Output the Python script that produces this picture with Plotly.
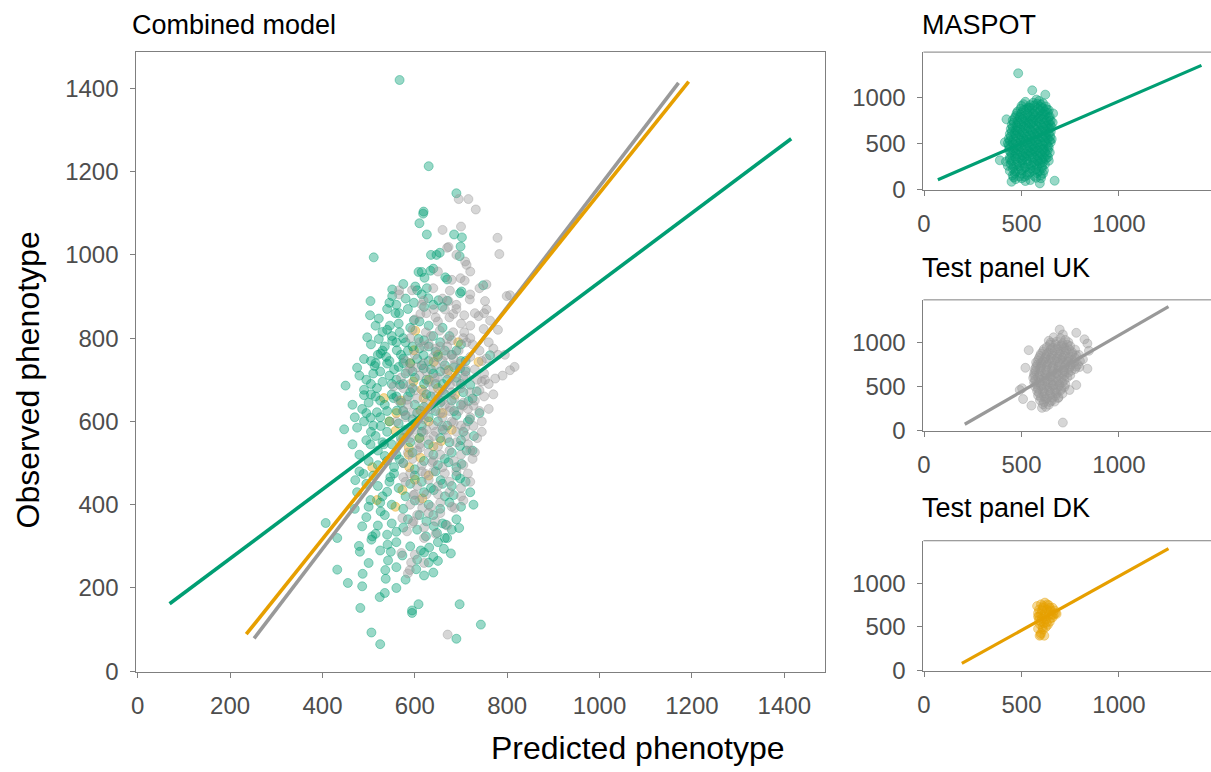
import plotly.graph_objects as go

# ---------------- data ----------------
# Combined model panel: MASPOT (green) points
comb_maspot_x = [567, 630, 690, 619, 618, 610, 626, 685, 702, 699, 511, 635, 647, 654, 697, 608, 615, 634, 640, 621,
                 666, 670, 748, 551, 601, 626, 701,
                 504, 551, 598, 629, 651, 698, 503, 522, 558, 566, 598, 546, 567, 497, 522, 551, 580, 608, 526, 538,
                 561, 575, 619, 645, 763, 475, 513, 540, 565, 619, 698, 450, 490, 518, 568, 734, 720, 490, 554, 716,
                 486, 518, 561,
                 447, 475, 504, 526, 719, 728, 504, 533, 698, 712, 535, 567, 673, 701, 471, 489, 547, 656, 698, 504,
                 540, 641, 684, 727, 407, 486, 526, 641, 667, 696, 508, 540, 624, 648,
                 432, 479, 481, 506, 541, 548, 542, 573, 603, 605, 613, 631, 630, 640, 640, 663, 678, 670, 487, 536,
                 537, 455, 486, 535, 524, 482, 608, 594, 594, 697, 743, 506, 525, 690, 432,
                 560, 585, 615, 640, 660, 540,
                 530, 550, 575, 595, 620, 640, 655, 675, 690,
                 505, 520, 545, 570, 590, 605, 630, 650, 665, 680, 700,
                 495, 510, 530, 545, 560, 580, 600, 625, 640, 660, 690, 710,
                 500, 515, 535, 550, 570, 585, 600, 620, 635, 655, 680, 700, 725,
                 490, 510, 525, 545, 565, 580, 595, 615, 630, 650, 670, 690, 715,
                 495, 515, 530, 550, 570, 590, 610, 630, 655, 675, 700,
                 500, 520, 540, 555, 575, 600, 620, 650, 665, 690,
                 495, 520, 545, 565, 590, 615, 635, 660, 680, 710,
                 500, 525, 550, 575, 600, 630, 655, 675, 700,
                 520, 550, 575, 605, 625, 660, 680,
                 525, 560, 590, 620, 650,
                 575, 605, 545, 580, 620, 670,
                 515, 540, 565, 590, 610, 630, 660, 505, 535, 560, 585, 610, 630, 665, 700,
                 490, 515, 530, 555, 575, 595, 615, 635, 655, 685, 710, 480, 505, 525, 550, 575, 595, 620, 645, 670,
                 700,
                 495, 505, 525, 540, 560, 575, 590, 605, 625, 645, 665, 685, 705, 465, 470, 740,
                 480, 505, 520, 540, 560, 580, 595, 615, 640, 660, 680, 705, 725, 465,
                 475, 510, 530, 555, 580, 600, 620, 645, 665, 690, 720, 480,
                 495, 515, 535, 560, 585, 610, 640, 665, 690, 470,
                 500, 560, 580, 620, 650, 560]
comb_maspot_y = [1420, 1213, 1148, 1104, 1099, 1076, 1049, 1049, 1042, 1020, 994, 1000, 1000, 1005, 997, 959, 959, 962,
                 967, 945, 946, 941, 927, 917, 924, 920, 912,
                 889, 901, 885, 896, 891, 908, 855, 847, 860, 860, 843, 830, 814, 802, 798, 794, 790, 798, 763, 755,
                 771, 751, 759, 767, 759, 729, 733, 739, 731, 727, 727, 686, 676, 680, 688, 672, 688, 663, 656, 649,
                 630, 622, 626,
                 581, 585, 609, 589, 605, 565, 545, 545, 541, 530, 517, 509, 502, 498, 459, 474, 466, 459, 463, 411,
                 431, 435, 423, 400, 356, 348, 384, 348, 352, 344, 324, 328, 324, 332,
                 244, 301, 287, 316, 304, 287, 266, 278, 245, 268, 290, 297, 261, 275, 237, 294, 283, 320, 234, 243,
                 222, 212, 204, 188, 178, 152, 161, 146, 140, 161, 112, 93, 65, 78, 320,
                 880, 870, 905, 880, 875, 870,
                 815, 805, 800, 780, 795, 805, 790, 805, 770,
                 745, 760, 745, 760, 740, 750, 745, 755, 735, 760, 745,
                 700, 715, 695, 710, 700, 715, 705, 700, 715, 690, 705, 720,
                 645, 660, 640, 665, 645, 660, 640, 635, 660, 645, 650, 640, 655,
                 600, 590, 610, 600, 595, 615, 605, 590, 610, 600, 590, 615, 600,
                 555, 565, 550, 545, 560, 550, 560, 545, 560, 550, 555,
                 505, 495, 505, 490, 500, 485, 505, 495, 510, 490,
                 450, 445, 455, 440, 450, 455, 440, 450, 445, 455,
                 395, 405, 400, 390, 410, 400, 390, 405, 395,
                 350, 355, 345, 340, 360, 355, 340,
                 290, 310, 300, 285, 310,
                 930, 915, 885, 895, 875, 890,
                 830, 820, 835, 825, 840, 830, 825, 785, 780, 790, 770, 775, 780, 770, 785,
                 750, 740, 770, 725, 740, 720, 735, 725, 720, 730, 745, 710, 690, 720, 690, 690, 680, 690, 690, 700,
                 690,
                 620, 665, 650, 625, 660, 625, 670, 620, 665, 625, 665, 625, 670, 640, 610, 620,
                 520, 575, 530, 575, 520, 580, 525, 575, 520, 580, 525, 575, 530, 545,
                 430, 470, 420, 475, 420, 470, 430, 480, 420, 470, 430, 480,
                 370, 330, 375, 335, 365, 375, 375, 320, 365, 390,
                 260, 250, 220, 230, 265, 200]

# Combined model panel: Test panel UK (grey) points
comb_uk_x = [695, 716, 732, 700, 779, 673, 670, 709, 712, 783, 699, 708, 755, 566, 594, 676, 806,
             566, 619, 673, 719, 752, 755, 799, 612, 641, 665, 683, 707, 738, 763, 624, 654, 683, 707, 749, 630,
             670, 712, 666, 684, 755, 590, 806, 816, 774, 752, 554, 643, 676, 705, 745, 583, 659, 676, 705, 727,
             590, 619, 641, 659, 684, 709, 727, 612, 730, 637, 575, 623, 597, 686, 573, 597, 616, 583,
             571, 592, 589, 671,
             640, 660, 690, 720,
             600, 625, 650, 675, 700, 730,
             590, 610, 635, 655, 680, 705, 725, 760,
             580, 600, 620, 640, 660, 680, 700, 720, 745, 780,
             570, 590, 610, 630, 650, 670, 690, 710, 735, 760,
             565, 585, 605, 625, 645, 665, 685, 705, 730, 750,
             560, 580, 600, 620, 640, 660, 680, 700, 720, 745,
             570, 590, 610, 630, 650, 670, 690, 715, 735,
             575, 595, 615, 640, 660, 685, 705, 725,
             580, 605, 630, 650, 675, 700, 720,
             590, 610, 635, 655, 680, 705,
             595, 620, 645, 670,
             585, 620,
             650, 680, 720, 740, 660, 690,
             615, 645, 690, 720, 750, 780,
             595, 620, 645, 670, 695, 720, 740, 770, 795,
             585, 605, 625, 645, 665, 685, 710, 730, 750, 790,
             575, 600, 620, 640, 660, 680, 700, 720, 740, 770,
             575, 595, 615, 635, 655, 675, 695, 715, 740, 760,
             580, 600, 625, 645, 665, 690, 710, 745,
             585, 605, 630, 655, 675, 700, 720,
             590, 615, 640, 665, 690, 715,
             600, 625, 650, 675, 700,
             605, 630, 655, 620, 645, 600]
comb_uk_y = [1134, 1134, 1109, 1068, 1041, 1019, 1017, 984, 976, 1002, 944, 938, 929, 915, 915, 914, 903,
             905, 890, 889, 893, 889, 869, 901, 858, 869, 869, 858, 855, 853, 842, 814, 818, 814, 814, 822, 786,
             798, 790, 759, 751, 751, 727, 723, 731, 703, 700, 684, 704, 688, 704, 696, 652, 649, 634, 638, 638,
             585, 573, 565, 589, 597, 585, 589, 537, 526, 502, 466, 474, 423, 392, 368, 360, 392, 336,
             284, 261, 243, 88,
             920, 895, 880, 905,
             845, 860, 840, 850, 835, 860,
             800, 790, 805, 780, 795, 800, 785, 790,
             745, 760, 740, 755, 745, 760, 740, 755, 745, 760,
             705, 690, 710, 695, 705, 715, 695, 710, 700, 690,
             650, 640, 655, 645, 660, 640, 655, 645, 650, 660,
             600, 610, 595, 605, 590, 610, 600, 590, 610, 600,
             550, 560, 545, 555, 540, 560, 550, 545, 560,
             500, 510, 495, 505, 490, 505, 495, 510,
             455, 445, 460, 445, 455, 440, 455,
             400, 410, 395, 405, 395, 410,
             355, 345, 360, 350,
             235, 260,
             960, 940, 960, 920, 1060, 1000,
             880, 850, 870, 830, 860, 820,
             820, 780, 775, 780, 770, 800, 770, 775, 760,
             720, 730, 720, 735, 725, 735, 725, 725, 715, 710,
             680, 675, 670, 680, 675, 670, 680, 670, 675, 665,
             625, 620, 625, 630, 620, 625, 625, 630, 625, 630,
             575, 580, 580, 575, 580, 575, 565, 575,
             525, 530, 525, 520, 530, 520, 530,
             475, 480, 480, 475, 480, 475,
             425, 425, 425, 430, 420,
             375, 380, 380, 320, 330, 280]

# Combined model panel: Test panel DK (orange) points
comb_dk_x = [558, 587, 657, 508, 588, 612, 518, 558, 573, 616, 601, 694, 598, 738, 641, 673, 597, 615, 533, 619,
             687, 612, 587, 630, 650, 560, 640, 600, 545, 575, 630, 660, 680, 610, 570, 630, 590, 650]
comb_dk_y = [577, 537, 553, 490, 490, 513, 411, 395, 435, 415, 818, 790, 771, 743, 743, 723, 696, 676, 656, 656,
             664, 626, 520, 600, 680, 620, 540, 460, 600, 560, 700, 620, 580, 560, 650, 470, 740, 760]

# Fitted lines in the combined panel (end points)
line_maspot_x = [69, 1415]
line_maspot_y = [162, 1279]
line_uk_x = [252, 1171]
line_uk_y = [79, 1413]
line_dk_x = [235, 1193]
line_dk_y = [89, 1416]

# MASPOT panel points
maspot_x = [483, 555, 622, 577, 662, 670, 594, 449, 389, 423, 415, 636, 517, 542,
            520, 560, 590, 610,
            500, 535, 565, 600, 625,
            480, 510, 540, 570, 595, 620, 640,
            470, 495, 520, 545, 570, 595, 620, 645,
            455, 480, 505, 530, 555, 580, 605, 630, 650,
            450, 475, 500, 525, 550, 575, 600, 625, 648,
            445, 470, 495, 520, 545, 570, 595, 620, 645,
            440, 465, 490, 515, 540, 565, 590, 615, 640,
            435, 460, 485, 510, 535, 560, 585, 610, 635, 655,
            430, 455, 480, 505, 530, 555, 580, 605, 630, 650,
            440, 465, 490, 515, 540, 565, 590, 615, 640,
            445, 470, 495, 520, 545, 570, 595, 620, 645,
            440, 465, 490, 515, 540, 565, 590, 615,
            420, 450, 480, 505, 530, 560, 585, 610, 640,
            430, 460, 490, 520, 550, 580, 605,
            440, 470, 500, 530, 560, 590, 615,
            455, 490, 530, 565, 600,
            470, 545, 600,
            510, 545, 580, 600,
            495, 525, 555, 585, 610, 630,
            475, 500, 530, 560, 585, 610, 635,
            465, 490, 515, 540, 565, 590, 615, 640,
            460, 485, 510, 535, 560, 590, 615, 640, 660,
            455, 480, 510, 535, 560, 585, 610, 635, 655,
            450, 480, 505, 530, 555, 580, 605, 630, 650,
            445, 470, 500, 525, 550, 575, 600, 625, 648,
            440, 470, 495, 520, 545, 570, 595, 620, 645,
            435, 460, 485, 510, 535, 560, 585, 610, 635,
            435, 460, 485, 510, 535, 560, 585, 610, 635,
            450, 480, 505, 530, 555, 580, 605, 630,
            440, 470, 500, 525, 555, 580, 605, 625,
            445, 475, 505, 535, 565, 595, 620,
            455, 485, 515, 545, 575, 605,
            465, 500, 540, 580, 610,
            500, 520, 575, 460]
maspot_y = [1260, 1075, 1028, 975, 824, 93, 64, 82, 315, 760, 511, 350, 136, 885,
            950, 940, 960, 935,
            905, 890, 910, 895, 900,
            845, 860, 850, 840, 855, 845, 860,
            795, 810, 800, 790, 805, 795, 810, 790,
            750, 740, 760, 745, 755, 740, 760, 750, 745,
            700, 690, 705, 695, 710, 695, 705, 690, 700,
            655, 640, 650, 660, 645, 655, 640, 650, 660,
            600, 610, 595, 605, 590, 600, 610, 595, 605,
            550, 545, 560, 550, 540, 555, 545, 560, 550, 545,
            500, 505, 495, 510, 500, 490, 505, 495, 500, 510,
            450, 445, 455, 440, 455, 445, 450, 440, 455,
            400, 395, 405, 390, 400, 410, 395, 405, 400,
            345, 355, 340, 350, 360, 345, 350, 340,
            300, 305, 295, 310, 300, 290, 305, 295, 310,
            255, 245, 250, 240, 255, 245, 250,
            200, 195, 205, 190, 200, 195, 205,
            150, 140, 155, 145, 150,
            110, 100, 120,
            925, 915, 930, 920,
            875, 870, 880, 875, 880, 870,
            825, 830, 820, 825, 830, 820, 830,
            775, 780, 770, 775, 780, 770, 775, 780,
            725, 720, 730, 720, 730, 725, 720, 730, 725,
            675, 670, 680, 670, 680, 675, 670, 680, 675,
            625, 630, 620, 630, 625, 620, 630, 625, 625,
            575, 580, 575, 570, 580, 575, 570, 580, 575,
            525, 520, 530, 525, 520, 530, 520, 525, 530,
            475, 480, 470, 480, 475, 470, 480, 475, 470,
            425, 420, 430, 425, 420, 430, 420, 430, 425,
            375, 380, 370, 375, 380, 370, 375, 375,
            325, 330, 320, 325, 330, 320, 325, 330,
            275, 270, 280, 275, 270, 280, 270,
            225, 220, 230, 225, 220, 230,
            175, 170, 180, 175, 170,
            120, 90, 125, 130]
maspot_line_x = [71, 1423]
maspot_line_y = [104, 1346]

# Test panel UK points
uk_x = [537, 520, 503, 508, 551, 605, 712, 696, 712, 781, 823, 838, 838, 797, 781, 746, 688, 491, 846,
        650, 680, 710, 740,
        630, 660, 690, 720, 750,
        610, 640, 670, 700, 730, 760,
        595, 625, 655, 685, 715, 745, 780,
        585, 610, 640, 670, 700, 730, 760, 800,
        580, 605, 635, 665, 695, 725, 755, 790,
        570, 595, 625, 655, 685, 715, 745, 775,
        565, 590, 620, 650, 680, 710, 740,
        560, 585, 615, 645, 675, 705, 735,
        565, 590, 620, 650, 680, 710,
        570, 600, 630, 660, 690, 720,
        580, 610, 640, 670, 700,
        585, 615, 645, 675,
        595, 625, 655,
        610, 640,
        665, 700, 725, 640,
        645, 675, 705, 735, 615, 650, 685, 715, 745, 775,
        600, 630, 660, 695, 725, 760, 795,
        590, 620, 650, 680, 710, 740, 775, 815,
        575, 600, 625, 655, 685, 715, 740, 770,
        575, 600, 630, 660, 690, 720, 750, 780,
        570, 600, 630, 660, 690, 720, 755,
        565, 595, 625, 655, 690, 720, 750,
        570, 600, 630, 660, 690, 720,
        575, 605, 635, 665, 695, 725,
        585, 615, 645, 675, 705,
        590, 620, 650, 680, 710,
        600, 630, 660, 690,
        615, 645, 670, 625]
uk_y = [914, 714, 481, 359, 285, 259, 92, 1148, 1092, 1111, 1037, 989, 703, 722, 518, 462, 370, 462, 907,
        1000, 1010, 990, 1005,
        950, 940, 955, 945, 960,
        900, 890, 905, 895, 910, 890,
        850, 840, 855, 845, 850, 840, 855,
        800, 790, 805, 795, 810, 795, 805, 790,
        750, 745, 755, 740, 760, 745, 755, 750,
        700, 705, 695, 710, 700, 690, 705, 700,
        650, 645, 655, 640, 655, 645, 660,
        600, 605, 595, 610, 600, 590, 605,
        550, 545, 555, 540, 555, 545,
        500, 505, 495, 510, 500, 495,
        450, 445, 455, 440, 455,
        400, 390, 405, 395,
        345, 355, 340,
        300, 295,
        1060, 1050, 1030, 1020,
        975, 980, 970, 975, 925, 925, 930, 925, 925, 920,
        875, 870, 875, 870, 875, 870, 860,
        825, 820, 825, 820, 830, 820, 825, 810,
        775, 770, 780, 775, 780, 770, 780, 775,
        725, 725, 730, 720, 730, 720, 730, 725,
        675, 675, 680, 670, 680, 670, 680,
        625, 625, 630, 620, 630, 625, 630,
        575, 575, 580, 570, 575, 575,
        525, 525, 530, 520, 525, 525,
        475, 475, 480, 470, 475,
        425, 425, 430, 425, 420,
        375, 370, 375, 380,
        325, 325, 330, 270]
uk_line_x = [209, 1254]
uk_line_y = [73, 1407]

# Test panel DK points
dk_x = [593, 617, 600, 585, 610, 625, 595, 615, 635, 590, 605, 625, 645, 660, 600, 620, 640, 675, 590, 610,
        630, 650, 600, 620, 640, 580, 660, 680, 585, 655,
        598, 608, 598, 620, 640, 612, 632, 650, 670, 585, 605, 628, 645, 590, 665]
dk_y = [400, 400, 430, 480, 470, 500, 530, 545, 525, 580, 600, 590, 560, 610, 650, 660, 640, 660, 700, 720,
        700, 690, 760, 780, 750, 740, 720, 650, 620, 640,
        410, 500, 560, 620, 680, 740, 760, 600, 690, 660, 690, 550, 720, 620, 640]
dk_line_x = [194, 1254]
dk_line_y = [82, 1400]

main_ticks = [0, 200, 400, 600, 800, 1000, 1200, 1400]
small_ticks = [0, 500, 1000]

# ---------------- styling ----------------
W, H = 1211, 772
GREEN, GREY, ORANGE = "#009E73", "#999999", "#E69F00"
TF = "Liberation Sans, Arial, sans-serif"


def rgba(hexc, a):
    h = hexc.lstrip("#")
    return "rgba(%d,%d,%d,%.2f)" % (int(h[0:2], 16), int(h[2:4], 16), int(h[4:6], 16), a)


def pts(x, y, col, xa, ya):
    return go.Scatter(x=x, y=y, mode="markers", xaxis=xa, yaxis=ya, showlegend=False, hoverinfo="skip",
                      marker=dict(size=9, color=rgba(col, 0.40), line=dict(width=1, color=rgba(col, 0.40))))


def ln(x, y, col, xa, ya, w):
    return go.Scatter(x=x, y=y, mode="lines", xaxis=xa, yaxis=ya, showlegend=False, hoverinfo="skip",
                      line=dict(color=col, width=w))


fig = go.Figure()
fig.add_trace(pts(comb_dk_x, comb_dk_y, ORANGE, "x", "y"))
fig.add_trace(pts(comb_maspot_x, comb_maspot_y, GREEN, "x", "y"))
fig.add_trace(pts(comb_uk_x, comb_uk_y, GREY, "x", "y"))
fig.add_trace(ln(line_maspot_x, line_maspot_y, GREEN, "x", "y", 3.6))
fig.add_trace(ln(line_uk_x, line_uk_y, GREY, "x", "y", 3.6))
fig.add_trace(ln(line_dk_x, line_dk_y, ORANGE, "x", "y", 3.6))

fig.add_trace(pts(maspot_x, maspot_y, GREEN, "x2", "y2"))
fig.add_trace(ln(maspot_line_x, maspot_line_y, GREEN, "x2", "y2", 3.2))
fig.add_trace(pts(uk_x, uk_y, GREY, "x3", "y3"))
fig.add_trace(ln(uk_line_x, uk_line_y, GREY, "x3", "y3", 3.2))
fig.add_trace(pts(dk_x, dk_y, ORANGE, "x4", "y4"))
fig.add_trace(ln(dk_line_x, dk_line_y, ORANGE, "x4", "y4", 3.2))

AX = dict(showline=True, linecolor="#7F7F7F", linewidth=1, ticks="outside", ticklen=5, tickwidth=1,
          tickcolor="#7F7F7F", showgrid=False, zeroline=False, ticklabelstandoff=7,
          tickfont=dict(family=TF, size=24, color="#4D4D4D"))


def dom_y(top, bottom):
    return [1 - bottom / H, 1 - top / H]


fig.update_layout(
    width=W, height=H, margin=dict(l=0, r=0, t=0, b=0),
    paper_bgcolor="white", plot_bgcolor="white",
    xaxis=dict(AX, domain=[131 / W, 823 / W], range=[-3, 1488], tickvals=main_ticks, mirror=True, anchor="y"),
    yaxis=dict(AX, domain=dom_y(53, 684), range=[-3, 1487], tickvals=main_ticks, mirror=True, anchor="x"),
    xaxis2=dict(AX, domain=[922 / W, 1.0], range=[-3, 1472], tickvals=small_ticks, anchor="y2"),
    yaxis2=dict(AX, domain=dom_y(53, 193), range=[-5, 1490], tickvals=small_ticks, anchor="x2"),
    xaxis3=dict(AX, domain=[922 / W, 1.0], range=[-3, 1472], tickvals=small_ticks, anchor="y3"),
    yaxis3=dict(AX, domain=dom_y(305, 438.5), range=[-5, 1485], tickvals=small_ticks, anchor="x3"),
    xaxis4=dict(AX, domain=[922 / W, 1.0], range=[-3, 1472], tickvals=small_ticks, anchor="y4"),
    yaxis4=dict(AX, domain=dom_y(550, 682.5), range=[-5, 1490], tickvals=small_ticks, anchor="x4"),
)

# top borders of the small panels (right border lies outside the picture)
for xa in ["x2", "x3", "x4"]:
    ya = "y" + xa[1:]
    fig.add_shape(type="line", xref=xa + " domain", yref=ya + " domain", x0=0, x1=1, y0=1, y1=1,
                  line=dict(color="#7F7F7F", width=1))

titles = [("Combined model", 125, 25), ("MASPOT", 919, 25), ("Test panel UK", 919, 273), ("Test panel DK", 919, 517)]
for txt, px, py in titles:
    fig.add_annotation(text=txt, xref="paper", yref="paper", x=px / W, y=1 - py / H, xanchor="left",
                       yanchor="middle", showarrow=False, font=dict(family=TF, size=27, color="black"))

fig.add_annotation(text="Predicted phenotype", xref="paper", yref="paper", x=635 / W, y=1 - 761 / H,
                   xanchor="center", yanchor="middle", showarrow=False, font=dict(family=TF, size=32, color="black"))
fig.add_annotation(text="Observed phenotype", xref="paper", yref="paper", x=22 / W, y=1 - 386 / H,
                   xanchor="center", yanchor="middle", textangle=-90, showarrow=False,
                   font=dict(family=TF, size=32, color="black"))

fig.write_html("out.html")
